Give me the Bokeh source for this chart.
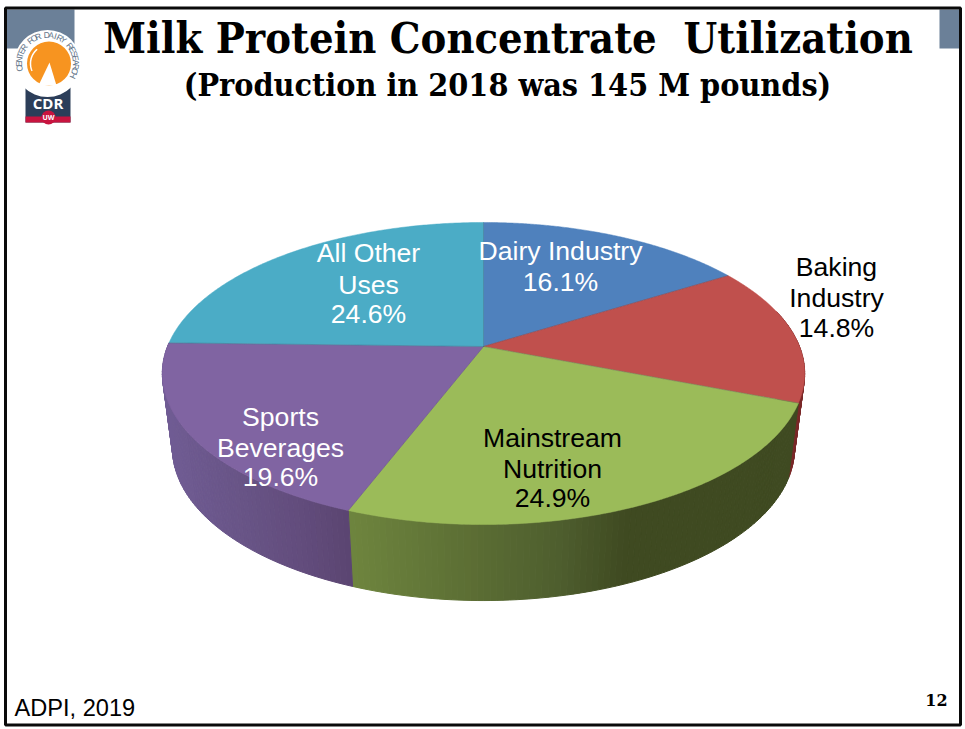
from math import pi

import numpy as np
from bokeh.core.properties import value
from bokeh.embed import file_html
from bokeh.models import ColumnDataSource, Range1d
from bokeh.plotting import figure
from bokeh.resources import INLINE

# Utilization shares, clockwise from twelve o'clock
segments = ["Dairy Industry", "Baking Industry", "Mainstream Nutrition", "Sports Beverages", "All Other Uses"]
shares = [16.1, 14.8, 24.9, 19.6, 24.6]
label_lines = [["Dairy Industry", "16.1%"], ["Baking", "Industry", "14.8%"], ["Mainstream", "Nutrition", "24.9%"],
               ["Sports", "Beverages", "19.6%"], ["All Other", "Uses", "24.6%"]]
top_colors = ["#4f81bd", "#c0504d", "#9bbb59", "#8064a2", "#4bacc6"]
label_colors = ["white", "black", "black", "white", "white"]
title = "Milk Protein Concentrate\u00a0\u00a0Utilization"
subtitle = "(Production in 2018 was 145 M pounds)"
source_note = "ADPI, 2019"
page_number = "12"

# Placement of the multi-line labels: centre x, and y of each line
label_x = [560, 836, 552, 280, 368]
label_y = [[250, 281], [266, 297, 327], [437, 468, 497], [416, 447, 476], [252, 284, 313]]

W, H = 965, 729
p = figure(width=W, height=H, output_backend="svg", toolbar_location=None,
           x_range=Range1d(0, W), y_range=Range1d(H, 0), min_border=0,
           background_fill_color="white", border_fill_color="white", outline_line_color=None)
p.axis.visible = False
p.grid.visible = False

# Perspective disc: a unit circle tipped towards the viewer
CX, TILT = 483.0, 0.1788


def disc(theta, half_w, half_h, apex_y):
    u, v = np.sin(theta), -np.cos(theta)
    d = 1 - TILT * v
    return CX + half_w * u / d, apex_y + half_h * v / d


def top_rim(theta):
    return disc(theta, 316.0, 146.2, 346.0)


def low_rim(theta):
    return disc(theta, 306.0, 147.2, 420.8)


def mix(stops, t):
    pos = [s[0] for s in stops]
    rgb = [np.interp(t, pos, [s[1][i] for s in stops]) for i in range(3)]
    return "#%02x%02x%02x" % tuple(int(round(c)) for c in rgb)


edges = np.cumsum([0] + shares) / sum(shares) * 2 * pi

# Shading of the side wall, keyed on horizontal position
wall_stops = {
    1: [(780, (122, 40, 40)), (810, (122, 40, 40))],
    2: [(347, (110, 133, 62)), (470, (92, 110, 52)), (560, (78, 94, 46)), (625, (63, 74, 33)), (800, (63, 74, 33))],
    3: [(160, (112, 92, 148)), (240, (104, 84, 134)), (300, (98, 76, 124)), (352, (90, 68, 112))],
}

for idx, stops in wall_stops.items():
    lo, hi = edges[idx], edges[idx + 1]
    lo = max(lo, pi * 0.42)
    hi = min(hi, pi * 1.58)
    grid = np.linspace(lo, hi, int((hi - lo) / (pi / 180)) + 2)
    xs, ys, cols = [], [], []
    for a, b in zip(grid[:-1], grid[1:]):
        tx, ty = top_rim(np.array([a, b]))
        bx, by = low_rim(np.array([b, a]))
        xs.append(list(tx) + list(bx))
        ys.append(list(ty) + list(by))
        cols.append(mix(stops, float(tx.mean())))
    p.patches(xs, ys, fill_color=cols, line_color=cols, line_width=1)

# Top face of the disc
for i, color in enumerate(top_colors):
    th = np.linspace(edges[i], edges[i + 1], 160)
    rx, ry = top_rim(th)
    sx = [CX] + list(rx)
    sy = [346.0] + list(ry)
    p.patch(sx, sy, fill_color=color, line_color=color, line_width=0.5)

for e in edges[:-1]:
    rx, ry = top_rim(np.array([e]))
    p.line([CX, rx[0]], [346.0, ry[0]], line_color="#33334d", line_alpha=0.3, line_width=0.8)

# Slice labels
for lines, x0, ys_, col in zip(label_lines, label_x, label_y, label_colors):
    src = ColumnDataSource(dict(x=[x0] * len(lines), y=ys_, t=lines))
    p.text("x", "y", text="t", source=src, text_color=col, text_font=value("Liberation Sans"),
           text_font_size="26.6px", text_align="center", text_baseline="middle")

# Slide furniture: frame and corner blocks
p.quad(left=[5, 939], right=[74, 960], top=[9, 9], bottom=[48, 48], fill_color="#6b8098", line_color=None)
p.quad(left=[5], right=[960], top=[7.5], bottom=[724.5], fill_color=None, line_color="#0a0a0a", line_width=3)

# Centre for Dairy Research badge
p.quad(left=[25], right=[70], top=[70], bottom=[122], fill_color="#2c3e59", line_color=None)
p.quad(left=[25], right=[70], top=[116], bottom=[122], fill_color="#c8143f", line_color=None)
p.circle([48], [117], radius=7, fill_color="#c8143f", line_color=None)
p.circle([47], [63], radius=33.5, fill_color="white", line_color=None)
p.circle([48.5], [63], radius=22, fill_color="#f79420", line_color=None)
p.patch([38, 49, 56], [85, 62, 85], fill_color="white", line_color=None)
arc_t = np.linspace(pi * 0.72, pi * 1.13, 30)
p.line(48.5 + 18.5 * np.cos(arc_t), 63 - 18.5 * np.sin(arc_t), line_color="white", line_width=1.5)
p.text([47.5], [102], text=["CDR"], text_color="white", text_font=value("Open Sans"), text_font_style="bold",
       text_font_size="15px", text_align="center", text_baseline="middle")
p.text([48], [117], text=["UW"], text_color="white", text_font=value("Open Sans"), text_font_style="bold",
       text_font_size="7px", text_align="center", text_baseline="middle")
ring = "CENTER FOR DAIRY RESEARCH"
ring_a = np.radians(np.linspace(190, -25, len(ring)))
p.text(47 + 28.5 * np.cos(ring_a), 63 - 28.5 * np.sin(ring_a), text=list(ring),
       angle=list(ring_a - pi / 2), text_color="#5e7186", text_font=value("Liberation Sans"),
       text_font_size="8.5px", text_align="center", text_baseline="middle")

# Headline, source and page number
p.text([507.5], [37], text=[title], text_color="black", text_font=value("DejaVu Serif Condensed"),
       text_font_style="bold", text_font_size="43px", text_align="center", text_baseline="middle")
p.text([507], [84], text=[subtitle], text_color="black", text_font=value("DejaVu Serif Condensed"),
       text_font_style="bold", text_font_size="32px", text_align="center", text_baseline="middle")
p.text([14], [707], text=[source_note], text_color="black", text_font=value("Liberation Sans"),
       text_font_size="23.6px", text_align="left", text_baseline="middle")
p.text([936], [699], text=[page_number], text_color="black", text_font=value("DejaVu Serif"),
       text_font_style="bold", text_font_size="16px", text_align="center", text_baseline="middle")

open("out.html", "w").write(file_html(p, INLINE))
